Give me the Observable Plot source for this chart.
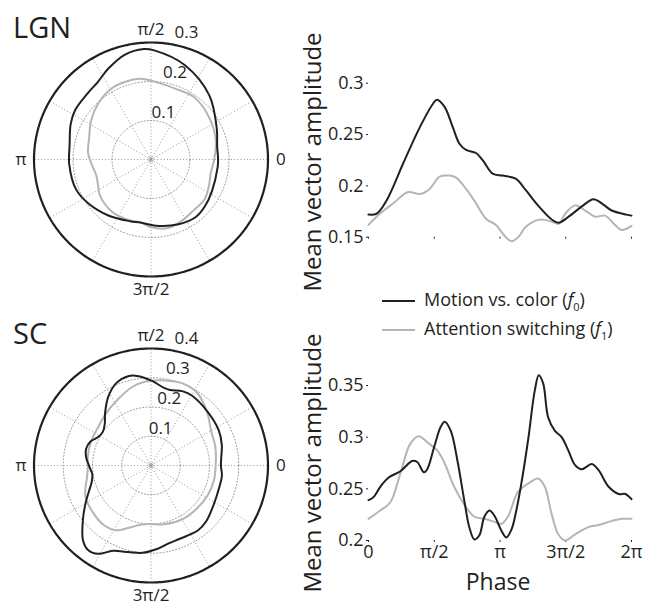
<!DOCTYPE html>
<html><head><meta charset="utf-8">
<script src="https://cdn.jsdelivr.net/npm/d3@7"></script>
<script src="https://cdn.jsdelivr.net/npm/@observablehq/plot@0.6"></script>
<style>
body{margin:0;background:#fff;}
#wrap{position:relative;width:654px;height:606px;overflow:hidden;font-family:"Open Sans",sans-serif;color:#231f20;background:#fff;}
.abs{position:absolute;white-space:nowrap;}
.ylab{font-size:24px;transform:translate(-50%,-50%) rotate(-90deg);line-height:1;}
.title{font-size:29px;line-height:1;}
.leg{font-size:18px;line-height:1;}
.legline{position:absolute;height:0;width:33px;}
</style></head><body><div id="wrap"></div>
<script>
// ---------- data (phase in radians, amplitude) ----------
const lgnBlackPhase = [0.000,0.198,0.435,0.830,1.225,1.541,1.636,1.818,2.015,2.173,2.331,2.569,2.727,2.964,3.201,3.517,3.754,4.070,4.386,4.544,4.782,5.098,5.374,5.572,5.809,6.165,6.283];
const lgnBlack      = [0.172,0.173,0.186,0.222,0.257,0.280,0.284,0.277,0.257,0.241,0.235,0.232,0.225,0.212,0.210,0.207,0.196,0.180,0.167,0.164,0.170,0.180,0.187,0.183,0.176,0.172,0.171];
const lgnGrayPhase  = [0.000,0.277,0.593,0.948,1.225,1.462,1.699,1.936,2.094,2.331,2.569,2.806,3.043,3.280,3.422,3.596,3.754,4.070,4.386,4.544,4.702,4.939,5.177,5.414,5.651,5.888,6.046,6.283];
const lgnGray       = [0.162,0.173,0.183,0.194,0.192,0.197,0.209,0.210,0.208,0.197,0.183,0.168,0.162,0.150,0.146,0.151,0.160,0.167,0.165,0.163,0.173,0.181,0.176,0.170,0.171,0.162,0.157,0.161];

const scBlackPhase = [0.000,0.120,0.281,0.481,0.762,1.043,1.164,1.324,1.404,1.565,1.725,1.822,1.966,2.126,2.287,2.407,2.528,2.648,2.768,2.889,3.009,3.170,3.290,3.410,3.531,3.651,3.812,3.972,4.068,4.173,4.293,4.454,4.614,4.775,4.935,5.096,5.336,5.497,5.737,5.978,6.138,6.283];
const scBlack      = [0.239,0.242,0.252,0.261,0.267,0.277,0.276,0.266,0.269,0.290,0.310,0.315,0.306,0.277,0.239,0.213,0.201,0.205,0.223,0.229,0.224,0.210,0.203,0.210,0.229,0.255,0.297,0.345,0.360,0.352,0.319,0.306,0.300,0.287,0.273,0.269,0.274,0.268,0.252,0.245,0.245,0.240];
const scGrayPhase  = [0.000,0.281,0.522,0.762,1.003,1.204,1.404,1.645,1.806,2.046,2.287,2.528,2.768,3.009,3.170,3.330,3.571,3.812,4.052,4.213,4.373,4.534,4.695,4.935,5.256,5.497,5.818,6.058,6.283];
const scGray       = [0.221,0.229,0.237,0.265,0.294,0.301,0.295,0.287,0.276,0.252,0.235,0.223,0.221,0.218,0.216,0.223,0.247,0.255,0.260,0.252,0.226,0.206,0.200,0.206,0.213,0.215,0.219,0.221,0.221];

const phaseTicks = [0, Math.PI/2, Math.PI, 3*Math.PI/2, 2*Math.PI];
const phaseTickLabels = ["0","π/2","π","3π/2","2π"];
const lgnYTicks = [0.15,0.2,0.25,0.3];
const scYTicks  = [0.2,0.25,0.3,0.35];
const lgnRings = [0.1,0.2,0.3];
const scRings  = [0.1,0.2,0.3,0.4];
const spokeDeg = [0,30,60,90,120,150,180,210,240,270,300,330];
const angleLabelDeg  = [0,90,180,270];
const angleLabelText = ["0","π/2","π","3π/2"];
const seriesNames = ["Motion vs. color", "Attention switching"];
const BLACK = "#231f20", GRAY = "#b5b5b5", GRID = "#8c8c8c";

const wrap = document.getElementById("wrap");
const FONT = '"Open Sans", sans-serif';

function rows(ph, vals){ return ph.map((p,i)=>({phase:p, v:vals[i]})); }
function place(el, left, top){ el.style.position="absolute"; el.style.left=left+"px"; el.style.top=top+"px"; wrap.appendChild(el); }

function polar(black, gray, rings, top){
  const rmax = rings[rings.length-1];
  const xy = (deg, r) => ({x: r*Math.cos(deg*Math.PI/180), y: r*Math.sin(deg*Math.PI/180)});
  const ringPts = rings.slice(0,-1).flatMap(r => d3.range(0,361,2).map(a => ({ring:r, ...xy(a, r)})));
  const outer = d3.range(0,361,1).map(a => xy(a, rmax));
  const spokes = spokeDeg.map(a => { const p = xy(a, rmax); return {x1:0,y1:0,x2:p.x,y2:p.y}; });
  const toCurve = d => d.filter(o => o.phase < 6.28).map(o => ({x:o.v*Math.cos(o.phase), y:o.v*Math.sin(o.phase)}));
  const aLabs = angleLabelDeg.map((a,i)=>({...xy(a, rmax*1.11), t:angleLabelText[i]}));
  const rLabs = rings.map(r => ({x:r*0.295, y:r*1.015, t:String(r)}));
  const svg = Plot.plot({
    width:300, height:300, marginLeft:33.5, marginRight:32.5, marginTop:42, marginBottom:24,
    x:{domain:[-rmax,rmax], axis:null}, y:{domain:[-rmax,rmax], axis:null},
    style:{fontFamily:FONT, fontSize:"17px", color:BLACK, background:"transparent"},
    marks:[
      Plot.line(ringPts,{x:"x",y:"y",z:"ring",stroke:GRID,strokeWidth:0.9,strokeDasharray:"1,2.2"}),
      Plot.link(spokes,{x1:"x1",y1:"y1",x2:"x2",y2:"y2",stroke:GRID,strokeWidth:0.9,strokeDasharray:"1,2.2"}),
      Plot.dot([{x:0,y:0}],{x:"x",y:"y",r:2,stroke:GRID,strokeWidth:0.8}),
      Plot.line(outer,{x:"x",y:"y",stroke:BLACK,strokeWidth:2.2}),
      Plot.line(toCurve(gray),{x:"x",y:"y",stroke:GRAY,strokeWidth:2,curve:"catmull-rom-closed"}),
      Plot.line(toCurve(black),{x:"x",y:"y",stroke:BLACK,strokeWidth:2,curve:"catmull-rom-closed"}),
      Plot.text(aLabs,{x:"x",y:"y",text:"t",fill:BLACK,fontSize:17,textAnchor:"middle",lineAnchor:"middle"}),
      Plot.text(rLabs,{x:"x",y:"y",text:"t",fill:BLACK,fontSize:17,textAnchor:"middle",lineAnchor:"middle",dx:1,dy:-7.7})
    ]
  });
  place(svg, 0, top);
}

function lineChart(black, gray, yTicks, yDomain, top, height, mt, mb, showX){
  const fmt = d => String(+d.toFixed(2));
  const svg = Plot.plot({
    width:334, height, marginLeft:48, marginRight:23, marginTop:mt, marginBottom:mb,
    x:{domain:[0,2*Math.PI], axis:null}, y:{domain:yDomain, axis:null},
    style:{fontFamily:FONT, fontSize:"18px", color:BLACK, background:"transparent", overflow:"visible"},
    marks:[
      Plot.axisY(yTicks,{anchor:"left", tickSize:2, tickPadding:3, tickFormat:fmt, label:null, fontSize:18, stroke:BLACK, fill:BLACK}),
      Plot.axisX(phaseTicks,{anchor:"bottom", tickSize:2, tickPadding:3, label:null, fontSize:18, stroke:BLACK, fill:BLACK,
        tickFormat:(d)=> showX ? phaseTickLabels[phaseTicks.indexOf(d)] : ""}),
      Plot.line(gray,{x:"phase",y:"v",stroke:GRAY,strokeWidth:2,curve:"catmull-rom"}),
      Plot.line(black,{x:"phase",y:"v",stroke:BLACK,strokeWidth:2,curve:"catmull-rom"})
    ]
  });
  place(svg, 320, top);
}

polar(rows(lgnBlackPhase,lgnBlack), rows(lgnGrayPhase,lgnGray), lgnRings, 0);
polar(rows(scBlackPhase,scBlack), rows(scGrayPhase,scGray), scRings, 306);
lineChart(rows(lgnBlackPhase,lgnBlack), rows(lgnGrayPhase,lgnGray), lgnYTicks, [0.15,0.3], 40, 220, 42.7, 23.3, false);
lineChart(rows(scBlackPhase,scBlack), rows(scGrayPhase,scGray), scYTicks, [0.2,0.35], 340, 266, 45, 66, true);

// text
function txt(cls, html, left, top){ const d=document.createElement("div"); d.className="abs "+cls; d.innerHTML=html; d.style.left=left+"px"; d.style.top=top+"px"; wrap.appendChild(d); return d; }
txt("title","LGN",13,12);
txt("title","SC",13,318);
txt("ylab","Mean vector amplitude",312,162);
txt("ylab","Mean vector amplitude",312,463);
const ph = txt("leg","Phase",0,0); ph.style.fontSize="23px"; ph.style.left="498px"; ph.style.top="581px"; ph.style.transform="translate(-50%,-50%)";
// legend
const legY = [301, 330];
const legColors = [BLACK, GRAY];
const legSub = ["0","1"];
legY.forEach((y,i)=>{
  const ln=document.createElement("div"); ln.className="legline"; ln.style.left="382px"; ln.style.top=(y-1)+"px"; ln.style.borderTop="2px solid "+legColors[i]; wrap.appendChild(ln);
  const t = txt("leg", seriesNames[i]+' (<i>f</i><sub style="font-size:11px">'+legSub[i]+'</sub>)', 424, y);
  t.style.transform="translateY(-50%)";
});
</script>
</body></html>
